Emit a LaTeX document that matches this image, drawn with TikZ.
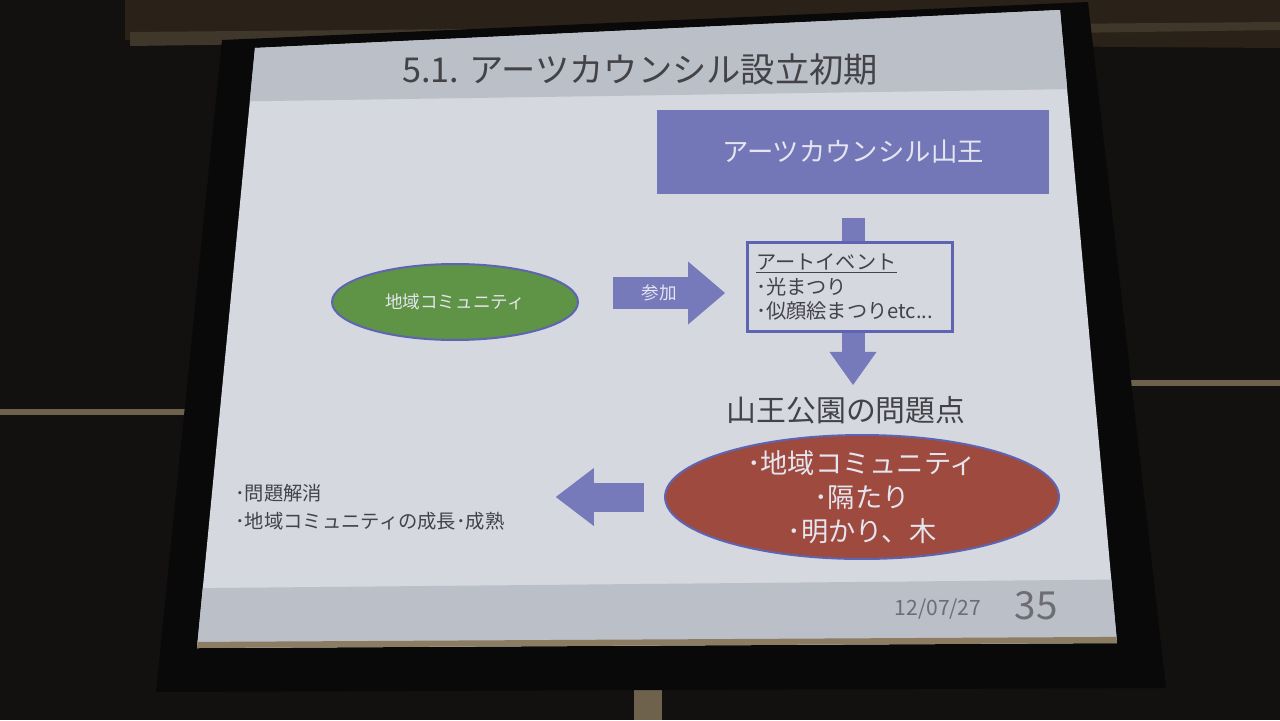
\documentclass[tikz,border=0pt]{standalone}
\usepackage{fontspec}
\setmainfont{Noto Sans CJK JP}
\usetikzlibrary{arrows.meta,positioning,shapes.geometric}

\definecolor{room}{HTML}{121110}
\definecolor{wall}{HTML}{2A2118}
\definecolor{casing}{HTML}{40372B}
\definecolor{trim}{HTML}{6E624C}
\definecolor{frameblack}{HTML}{090909}
\definecolor{slidebody}{HTML}{D5D8DF}
\definecolor{slideband}{HTML}{BBBFC8}
\definecolor{slideedge}{HTML}{8C7C62}
\definecolor{inktext}{HTML}{434347}
\definecolor{pagetext}{HTML}{6E6D76}
\definecolor{lighttext}{HTML}{E4E5EF}
\definecolor{councilblue}{HTML}{7377B8}
\definecolor{arrowblue}{HTML}{7679BA}
\definecolor{rimblue}{HTML}{5E64B2}
\definecolor{communitygreen}{HTML}{5F9446}
\definecolor{problemred}{HTML}{9E4A3E}

\begin{document}
\begin{tikzpicture}[x=0.02cm, y=-0.02cm,
  box/.style={rectangle, align=center, inner sep=0pt, fill=#1},
  box/.default={councilblue},
  oval/.style={ellipse, draw=rimblue, line width=0.04cm, fill=#1, inner sep=0pt},
  fat/.style n args={3}{draw=arrowblue, line width=#1,
    -{Triangle[length=#2, width=#3, line width=0pt]}}]
\useasboundingbox (0,0) rectangle (1280,720);

% room, screen frame and slide
\fill[room] (0,0) rectangle (1280,720);
\fill[wall] (125,0) -- (1280,0) -- (1280,48) -- (125,40) -- cycle;
\fill[casing] (130,32) -- (1280,22) -- (1280,30) -- (130,46) -- cycle;
\fill[trim] (0,409) rectangle (188,415);
\fill[trim] (1128,380) rectangle (1280,386);
\fill[trim] (634,688) rectangle (662,720);
\fill[frameblack] (222,40) -- (1088,2) -- (1166,688) -- (156,692) -- cycle;
\begin{scope}
\clip (255,48) -- (1060,10) -- (1117,643) -- (197,648) -- cycle;
\fill[slidebody] (0,0) rectangle (1280,720);
\fill[slideband] (0,0) -- (1280,0) -- (1280,86) -- (0,105) -- cycle;
\fill[slideband] (0,590) -- (1280,578) -- (1280,720) -- (0,720) -- cycle;
\fill[slideedge] (0,643) -- (1280,636) -- (1280,720) -- (0,720) -- cycle;
\end{scope}

\node[text=inktext, font=\fontsize{19.5}{24}\selectfont] (title) at (640,70)
  {5.1. アーツカウンシル設立初期};

\node[box, minimum width=7.86cm, minimum height=1.7cm, text=lighttext,
  font=\fontsize{15}{18}\selectfont] (council) at (853,152) {アーツカウンシル山王};
\node[text=inktext, font=\fontsize{17}{20}\selectfont] (issues) at (846,410)
  {山王公園の問題点};
\draw[fat={0.46cm}{0.66cm}{0.94cm}, shorten <=0.46cm, shorten >=0.1cm]
  (council.south) -- (council.south |- issues.north);

\node[box=slidebody, draw=rimblue, line width=0.06cm, minimum width=4.1cm,
  minimum height=1.78cm, align=left, text width=3.75cm, text=inktext,
  font=\fontsize{11.5}{14}\selectfont] (event) at (850,287)
  {\underline{アートイベント}\\･光まつり\\･似顔絵まつりetc...};

\node[oval=communitygreen, minimum width=4.92cm, minimum height=1.52cm,
  text=lighttext, font=\fontsize{10}{12}\selectfont] (community) at (455,302)
  {地域コミュニティ};
\draw[fat={0.64cm}{0.74cm}{1.26cm}, shorten <=0.68cm, shorten >=0.42cm]
  ([yshift=0.18cm]community.east) -- ([yshift=0.18cm]community.east -| event.west)
  node[pos=0.48, text=lighttext, font=\fontsize{10}{12}\selectfont] {参加};

\node[oval=problemred, minimum width=7.88cm, minimum height=2.48cm,
  label={[text=lighttext, align=center, font=\fontsize{15.5}{19.5}\selectfont]
    center:{･地域コミュニティ\\･隔たり\\･明かり、木}}] (problems) at (862,497) {};

\node[anchor=west, align=left, text=inktext, font=\fontsize{11}{16}\selectfont]
  (outcome) at (229,507) {･問題解消\\･地域コミュニティの成長･成熟};
\draw[fat={0.58cm}{0.76cm}{1.16cm}, shorten <=0.4cm, shorten >=0.9cm]
  (problems.west) -- (problems.west -| outcome.east);

\node[text=pagetext, font=\fontsize{12}{14}\selectfont] (date) at (938,609) {12/07/27};
\node[text=pagetext, font=\fontsize{22}{26}\selectfont] (page) at (1036,606) {35};
\end{tikzpicture}
\end{document}
